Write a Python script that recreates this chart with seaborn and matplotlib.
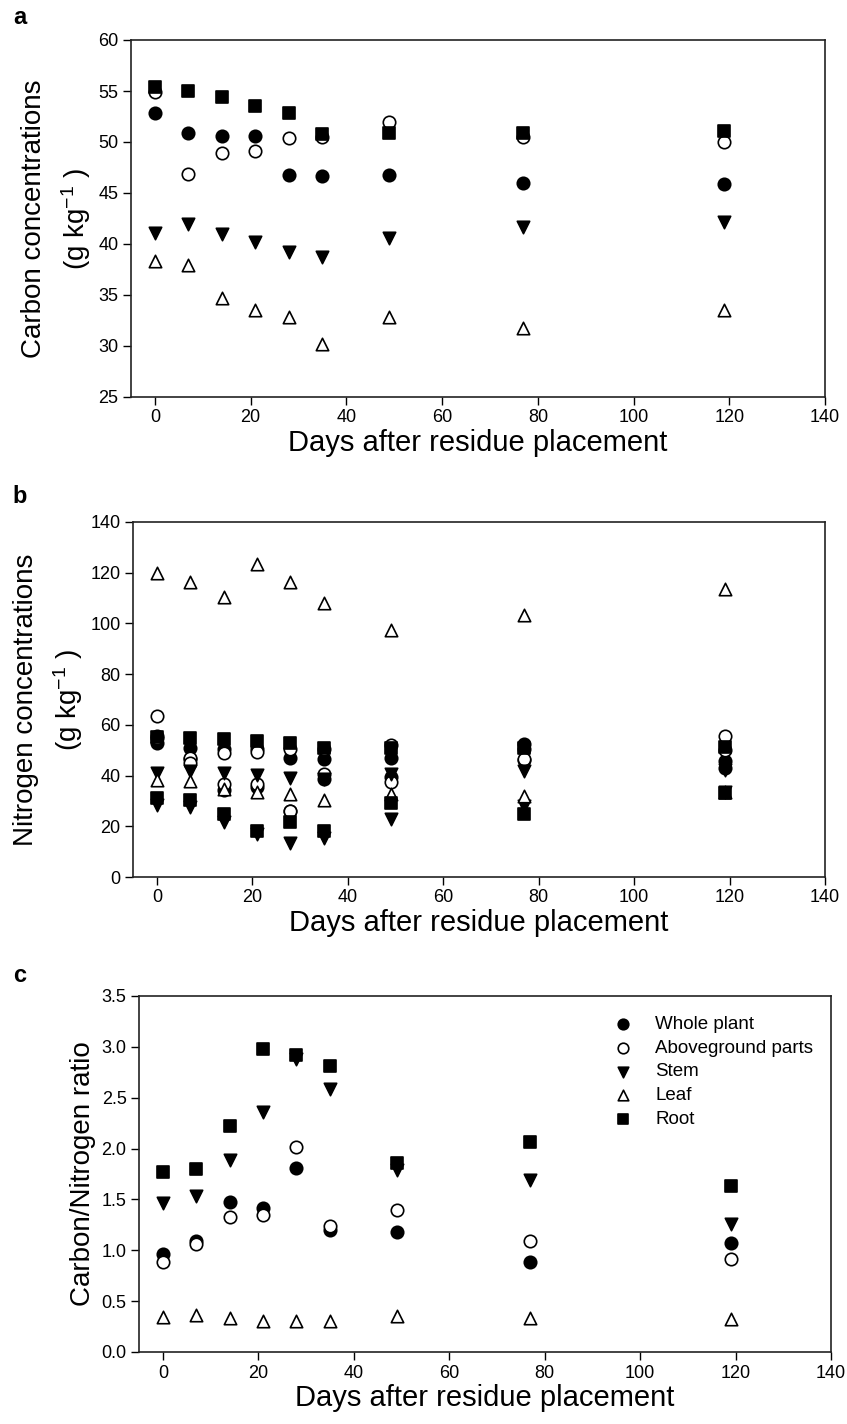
import matplotlib
matplotlib.use("Agg")
import matplotlib.pyplot as plt
import pandas as pd
import seaborn as sns

# ---------------- data ----------------
days = [0, 7, 14, 21, 28, 35, 49, 77, 119]
series = ["Whole plant", "Aboveground parts", "Stem", "Leaf", "Root"]

# Panel a: carbon concentrations
carbon_whole = [52.8, 50.9, 50.6, 50.6, 46.8, 46.7, 46.8, 46.0, 45.9]
carbon_above = [54.9, 46.9, 48.9, 49.1, 50.4, 50.5, 52.0, 50.5, 50.0]
carbon_stem = [41.1, 42.0, 41.0, 40.2, 39.2, 38.7, 40.6, 41.7, 42.2]
carbon_leaf = [38.3, 37.9, 34.7, 33.5, 32.8, 30.2, 32.8, 31.8, 33.5]
carbon_root = [55.4, 55.0, 54.4, 53.5, 52.8, 50.8, 50.9, 50.9, 51.1]

# Panel b: nitrogen concentrations (plotted together with the carbon points)
nitrogen_whole = [55.5, 46.5, 34.5, 35.5, 26.0, 38.5, 39.5, 52.5, 43.0]
nitrogen_above = [63.5, 44.8, 36.8, 36.5, 26.0, 40.8, 37.5, 46.5, 55.7]
nitrogen_stem = [28.5, 27.5, 21.8, 17.0, 13.4, 15.5, 22.8, 28.0, 33.5]
nitrogen_leaf = [120.0, 116.5, 110.3, 123.5, 116.3, 108.0, 97.5, 103.5, 113.5]
nitrogen_root = [31.3, 30.5, 25.0, 18.3, 21.5, 18.3, 29.0, 24.8, 33.0]

# Panel c: carbon/nitrogen ratio
ratio_whole = [0.96, 1.09, 1.47, 1.42, 1.81, 1.20, 1.18, 0.88, 1.07]
ratio_above = [0.88, 1.06, 1.33, 1.35, 2.02, 1.24, 1.40, 1.09, 0.91]
ratio_stem = [1.46, 1.53, 1.89, 2.36, 2.88, 2.59, 1.79, 1.69, 1.26]
ratio_leaf = [0.34, 0.36, 0.33, 0.30, 0.30, 0.30, 0.35, 0.33, 0.32]
ratio_root = [1.77, 1.80, 2.22, 2.98, 2.92, 2.81, 1.86, 2.06, 1.63]

carbon = dict(zip(series, [carbon_whole, carbon_above, carbon_stem, carbon_leaf, carbon_root]))
nitrogen = dict(zip(series, [nitrogen_whole, nitrogen_above, nitrogen_stem, nitrogen_leaf, nitrogen_root]))
ratio = dict(zip(series, [ratio_whole, ratio_above, ratio_stem, ratio_leaf, ratio_root]))

# ---------------- style ----------------
sns.set_theme(style="ticks")
plt.rcParams["font.family"] = ["Liberation Sans", "DejaVu Sans"]
plt.rcParams["mathtext.fontset"] = "custom"
plt.rcParams["mathtext.rm"] = "Liberation Sans"
plt.rcParams["mathtext.it"] = "Liberation Sans:italic"
plt.rcParams["mathtext.bf"] = "Liberation Sans:bold"
plt.rcParams["text.color"] = "black"
plt.rcParams["axes.labelcolor"] = "black"
plt.rcParams["xtick.color"] = "black"
plt.rcParams["ytick.color"] = "black"

style = {
    "Whole plant": dict(marker="o", color="black", s=80),
    "Aboveground parts": dict(marker="o", color="white", s=80),
    "Stem": dict(marker="v", color="black", s=80),
    "Leaf": dict(marker="^", color="white", s=80),
    "Root": dict(marker="s", color="black", s=68),
}


def long_frame(dicts):
    rows = []
    for d in dicts:
        for s in series:
            for day, v in zip(days, d[s]):
                rows.append({"day": day, "value": v, "series": s})
    return pd.DataFrame(rows)


fig = plt.figure(figsize=(8.47, 14.24), dpi=100)
W, H = 847, 1424


def make_ax(left, right, top, bottom):
    return fig.add_axes([left / W, 1 - bottom / H, (right - left) / W, (bottom - top) / H])


ax_a = make_ax(131, 825, 40, 397)
ax_b = make_ax(133, 825, 522, 877)
ax_c = make_ax(139, 831, 996, 1352)


def draw(ax, df, legend=False):
    for s in series:
        sub = df[df["series"] == s]
        st = style[s]
        sns.scatterplot(data=sub, x="day", y="value", ax=ax, marker=st["marker"],
                        s=st["s"], color=st["color"], edgecolor="black",
                        linewidth=1.2, zorder=3, label=s if legend else None,
                        legend=False)


draw(ax_a, long_frame([carbon]))
draw(ax_b, long_frame([carbon, nitrogen]))
draw(ax_c, long_frame([ratio]), legend=True)

ylims = [(25, 60, 5), (0, 140, 20), (0, 3.5, 0.5)]
ylabels = ["Carbon concentrations\n(g kg$^{-1}$ )",
           "Nitrogen concentrations\n(g kg$^{-1}$ )",
           "Carbon/Nitrogen ratio"]
for ax, (lo, hi, step), yl in zip([ax_a, ax_b, ax_c], ylims, ylabels):
    ax.set_xlim(-5, 140)
    ax.set_ylim(lo, hi)
    ax.set_xticks(range(0, 141, 20))
    n = int(round((hi - lo) / step))
    ticks = [lo + i * step for i in range(n + 1)]
    ax.set_yticks(ticks)
    if step < 1:
        ax.set_yticklabels([f"{t:.1f}" for t in ticks])
    else:
        ax.set_yticklabels([f"{int(t)}" for t in ticks])
    ax.set_xlabel("Days after residue placement", fontsize=21, labelpad=2)
    ax.set_ylabel(yl, fontsize=20, labelpad=4, multialignment="center",
                  linespacing=1.45)
    ax.tick_params(direction="out", length=6, width=1.0, labelsize=13,
                   colors="black", pad=3)
    for sp in ax.spines.values():
        sp.set_visible(True)
        sp.set_linewidth(1.2)
        sp.set_color("#222222")

leg = ax_c.legend(loc="upper right", bbox_to_anchor=(0.985, 0.966), frameon=False,
                  fontsize=13.5, handletextpad=0.7, labelspacing=0.36,
                  scatterpoints=1, markerscale=0.85, borderaxespad=0.0)

for letter, y in zip(["a", "b", "c"], [18, 497, 975]):
    fig.text(20 / W, 1 - y / H, letter, fontsize=17, fontweight="bold",
             ha="center", va="center")

fig.savefig("out.png", dpi=100)
